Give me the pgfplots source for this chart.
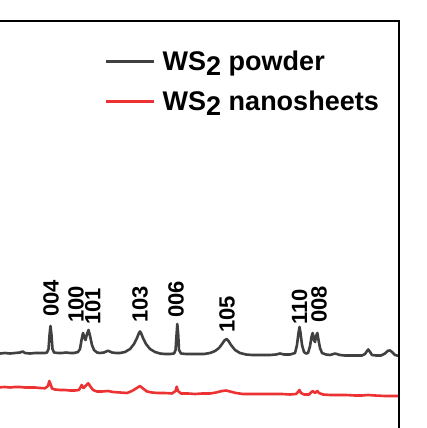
\documentclass[border=0pt]{standalone}
\usepackage{pgfplots}
\usepackage{pgfplotstable}
\pgfplotsset{compat=1.18}
\usepackage{fontspec}
\setmainfont{Liberation Sans}
\definecolor{pw}{RGB}{64,64,64}
\definecolor{ns}{RGB}{236,50,50}
\pgfplotstableread{
x y
23.00 74.5
23.59 75
24.19 74.5
24.78 75
25.37 75.5
25.69 76.5
25.96 75
26.56 74.5
27.15 75
27.74 75
28.33 75
28.57 75.5
28.75 79
28.87 93
28.98 102
29.10 93
29.22 79
29.40 75.5
29.87 75
30.35 75
30.82 75.5
31.30 75
31.77 75
32.24 76
32.48 79
32.66 88
32.84 95
33.01 90
33.13 88
33.31 94
33.49 98
33.67 92
33.90 83
34.14 78
34.49 75.5
34.85 75
35.32 75.5
35.80 77.3
36.27 75.5
36.75 75
37.22 75
37.81 76
38.41 79
38.88 84
39.23 90
39.47 95
39.59 96.5
39.71 95
39.95 90
40.30 84
40.78 79
41.37 76
41.96 74.5
42.55 74
43.15 74
43.62 74.5
43.80 78
43.92 93
44.01 104
44.12 93
44.21 78
44.45 74.5
45.04 74
45.75 74
46.46 74
47.17 74
47.89 75
48.48 77
48.95 80
49.31 84
49.60 87.5
49.84 89
50.08 87
50.37 83
50.85 78
51.44 75
52.15 73.5
52.86 73
53.57 73
54.28 73
54.99 73
55.71 73.5
56.18 74.5
56.65 73.5
57.37 73.5
57.96 75
58.19 83
58.37 95
58.49 101
58.61 95
58.79 83
59.02 76
59.26 74.5
59.50 75
59.74 82
59.91 91
60.05 95
60.21 88
60.33 86
60.45 92
60.60 95
60.74 88
60.92 80
61.16 75
61.63 73.5
62.11 73
62.70 74.5
63.29 73
63.88 72.5
64.48 72.5
65.07 72.5
65.90 72.5
66.25 74
66.49 77
66.64 78.5
66.85 76
67.08 73
67.56 72.5
68.15 72.5
68.62 74.5
68.98 77.3
69.22 77.5
69.45 76
69.81 73
70.28 72
}\powder
\pgfplotstableread{
x y
23.00 40.7
23.59 41
24.19 40.5
24.78 41
25.37 41
25.96 40.5
26.56 40.5
27.15 40.5
27.74 40
28.33 39.7
28.69 42
28.84 47
28.98 44
29.16 39.5
29.52 38.5
30.11 38
30.70 38
31.30 37.5
31.89 37.5
32.36 38
32.68 43
32.89 40
33.07 41.5
33.46 44.7
33.67 42
34.02 38
34.49 36.5
35.09 36.5
35.80 37
36.39 36
37.22 35.5
38.05 35
38.64 37
39.12 39.5
39.59 42
39.95 39.5
40.42 36.5
41.01 35.5
41.72 35
42.55 35
43.38 34.5
43.80 37
43.94 41.3
44.09 37
44.45 34.5
45.28 34.5
46.11 34
46.94 34.5
47.89 34.5
48.60 35.5
49.31 37
49.78 37.5
50.26 36.5
50.97 35
51.80 34
52.63 34
53.57 34
54.52 34
55.47 34
56.42 34
57.37 33.5
58.08 34
58.31 36
58.47 38
58.67 35
59.02 33.5
59.62 33.5
59.85 35.5
60.05 37
60.33 35
60.60 37
60.80 35
61.28 33.5
62.11 33
63.05 33
64.00 33
65.07 32.5
65.90 32.5
66.61 33
67.44 32.5
68.62 32
69.45 32
70.28 32
}\nanos
\begin{document}
\begin{tikzpicture}
\begin{axis}[
  at={(0,0)}, anchor=south west,
  scale only axis, width=399bp, height=407bp,
  xmin=23, xmax=70.28, ymin=0, ymax=407,
  axis line style={draw=none}, ticks=none,
  legend cell align=left,
  legend image code/.code={\draw[#1] (0bp,0bp) -- (48bp,0bp);},
  legend style={draw=none, fill=none, at={(axis description cs:0.263,0.932)}, anchor=north west,
    inner sep=0pt, column sep=5bp, row sep=15bp,
    font=\fontsize{27bp}{30bp}\selectfont\bfseries},
]
\addplot[pw, line width=2.6bp, line join=round] table {\powder};
\addplot[ns, line width=2.6bp, line join=round] table {\nanos};
\legend{WS\raisebox{-5bp}{2} powder, WS\raisebox{-5bp}{2} nanosheets}
\tikzset{pl/.style={rotate=90, anchor=west, inner sep=0pt, font=\fontsize{22bp}{24bp}\selectfont\bfseries}}
\node[pl] at (axis cs:29.04,111.3) {004};
\node[pl] at (axis cs:32.0,105) {100};
\node[pl] at (axis cs:34.0,103) {101};
\node[pl] at (axis cs:39.59,105) {103};
\node[pl] at (axis cs:43.86,110) {006};
\node[pl] at (axis cs:49.9,95) {105};
\node[pl] at (axis cs:58.49,103) {110};
\node[pl] at (axis cs:60.8,105) {008};
\end{axis}
\draw[line width=2.2bp, line join=miter] (0,407bp) -- (399bp,407bp) -- (399bp,0);
\pgfresetboundingbox
\path (0,0) rectangle (427bp,428bp);
\end{tikzpicture}
\end{document}
